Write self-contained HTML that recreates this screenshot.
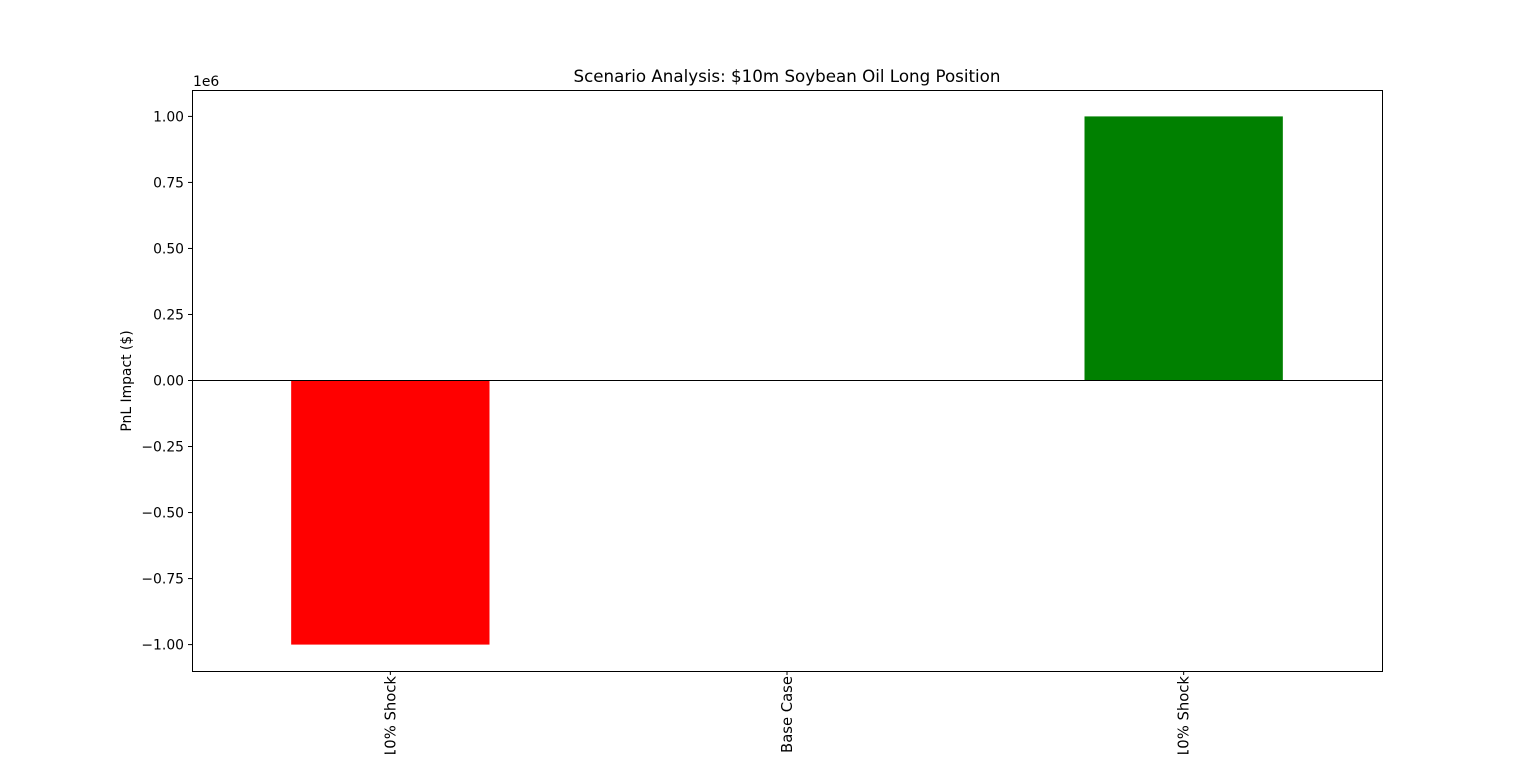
<!DOCTYPE html>
<html><head><meta charset="utf-8"><style>
body{margin:0;background:#fff;}
svg text{font-family:"DejaVu Sans","Liberation Sans",sans-serif;fill:#000;}
</style></head><body>
<svg width="1536" height="754">
<rect width="1536" height="754" fill="#fff"/>
<g id="bars"></g>
<g id="axes"></g>
<text x="787" y="82" font-size="16.7" text-anchor="middle">Scenario Analysis: $10m Soybean Oil Long Position</text>
<text x="193" y="86" font-size="13.9">1e6</text>
<text transform="translate(131,381) rotate(-90)" font-size="13.9" text-anchor="middle">PnL Impact ($)</text>
</svg>
<script>
const categories = ["-10% Shock", "Base Case", "+10% Shock"];
const values = [-1000000, 0, 1000000];
const colors = ["#ff0000", "#0000ff", "#008000"];
const yTicks = [-1.0, -0.75, -0.5, -0.25, 0, 0.25, 0.5, 0.75, 1.0];
const yTickLabels = ["\u22121.00","\u22120.75","\u22120.50","\u22120.25","0.00","0.25","0.50","0.75","1.00"];

const L=192, R=1382, T=90, B=671, yMin=-1.1e6, yMax=1.1e6;
const ns="http://www.w3.org/2000/svg";
const y = v => B - (v - yMin) / (yMax - yMin) * (B - T);
const step = (R - L) / categories.length;
const x = i => L + step * (i + 0.5);
const bw = step * 0.5;
const bars = document.getElementById('bars');
const axes = document.getElementById('axes');
function mk(tag, attrs, parent){const e=document.createElementNS(ns,tag);for(const k in attrs)e.setAttribute(k,attrs[k]);parent.appendChild(e);return e;}

values.forEach((v,i)=>{
  const r = mk('rect',{x:x(i)-bw/2,y:Math.min(y(v),y(0)),width:bw,height:Math.abs(y(v)-y(0)),fill:colors[i]},bars);
  
  
  const t = mk('line',{x1:x(i),x2:x(i),y1:B,y2:B+4,stroke:'#000','stroke-width':1},axes);
  
  
  const lb = mk('text',{transform:`translate(${x(i)+5},${B+5}) rotate(-90)`,'font-size':14.8,'text-anchor':'end'},axes);
  lb.textContent = categories[i];
  
  
});
const zl = mk('line',{x1:L,x2:R,y1:y(0),y2:y(0),stroke:'#000','stroke-width':1},axes);


yTicks.forEach((v,i)=>{
  const yy = y(v*1e6);
  const t = mk('line',{x1:L-4,x2:L,y1:yy,y2:yy,stroke:'#000','stroke-width':1},axes);
  
  
  const lb = mk('text',{x:L-8,y:yy+5,'font-size':13.9,'text-anchor':'end'},axes);
  lb.textContent = yTickLabels[i];
  
  
});
const fr = mk('rect',{x:L+0.5,y:T+0.5,width:R-L,height:B-T,fill:'none',stroke:'#000','stroke-width':1},axes);


</script>
</body></html>
